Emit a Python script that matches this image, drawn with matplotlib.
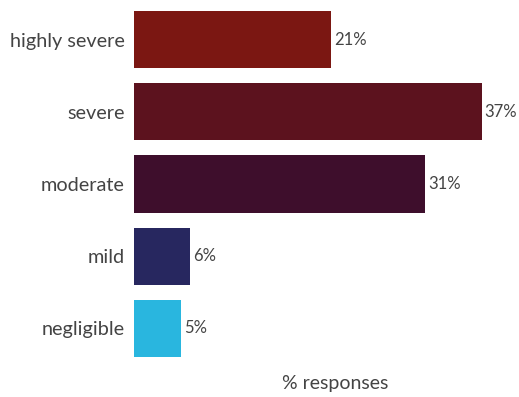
import matplotlib
matplotlib.use("Agg")
import matplotlib.pyplot as plt

categories = ["highly severe", "severe", "moderate", "mild", "negligible"]
values = [21, 37, 31, 6, 5]
labels = ["21%", "37%", "31%", "6%", "5%"]
colors = ["#7B1712", "#5C121E", "#3E0E2C", "#27275F", "#29B6DF"]

plt.rcParams['font.family'] = ['Lato', 'DejaVu Sans']

W, H = 519, 397
fig = plt.figure(figsize=(W/100, H/100), dpi=100)
ax = fig.add_axes([134/W, 32.4/H, (510-134)/W, (364.6-3.4)/H])

ypos = list(range(len(categories)))
ax.barh(ypos, values, height=0.79, color=colors)
ax.set_ylim(4.5, -0.5)
ax.set_xlim(0, 40)
ax.set_yticks(ypos)
ax.set_yticklabels(categories, fontsize=14.3, color="#444444")
ax.tick_params(axis='y', length=0, pad=6.5)
ax.set_xticks([])
for s in ax.spines.values():
    s.set_visible(False)
for y, v, l in zip(ypos, values, labels):
    ax.text(v + 0.3, y, l, va='center', ha='left', fontsize=12, color="#444444")

fig.text(335/W, 1 - 383/H, "% responses", ha='center', va='center', fontsize=14, color="#444444")
fig.savefig("out.png", dpi=100)
